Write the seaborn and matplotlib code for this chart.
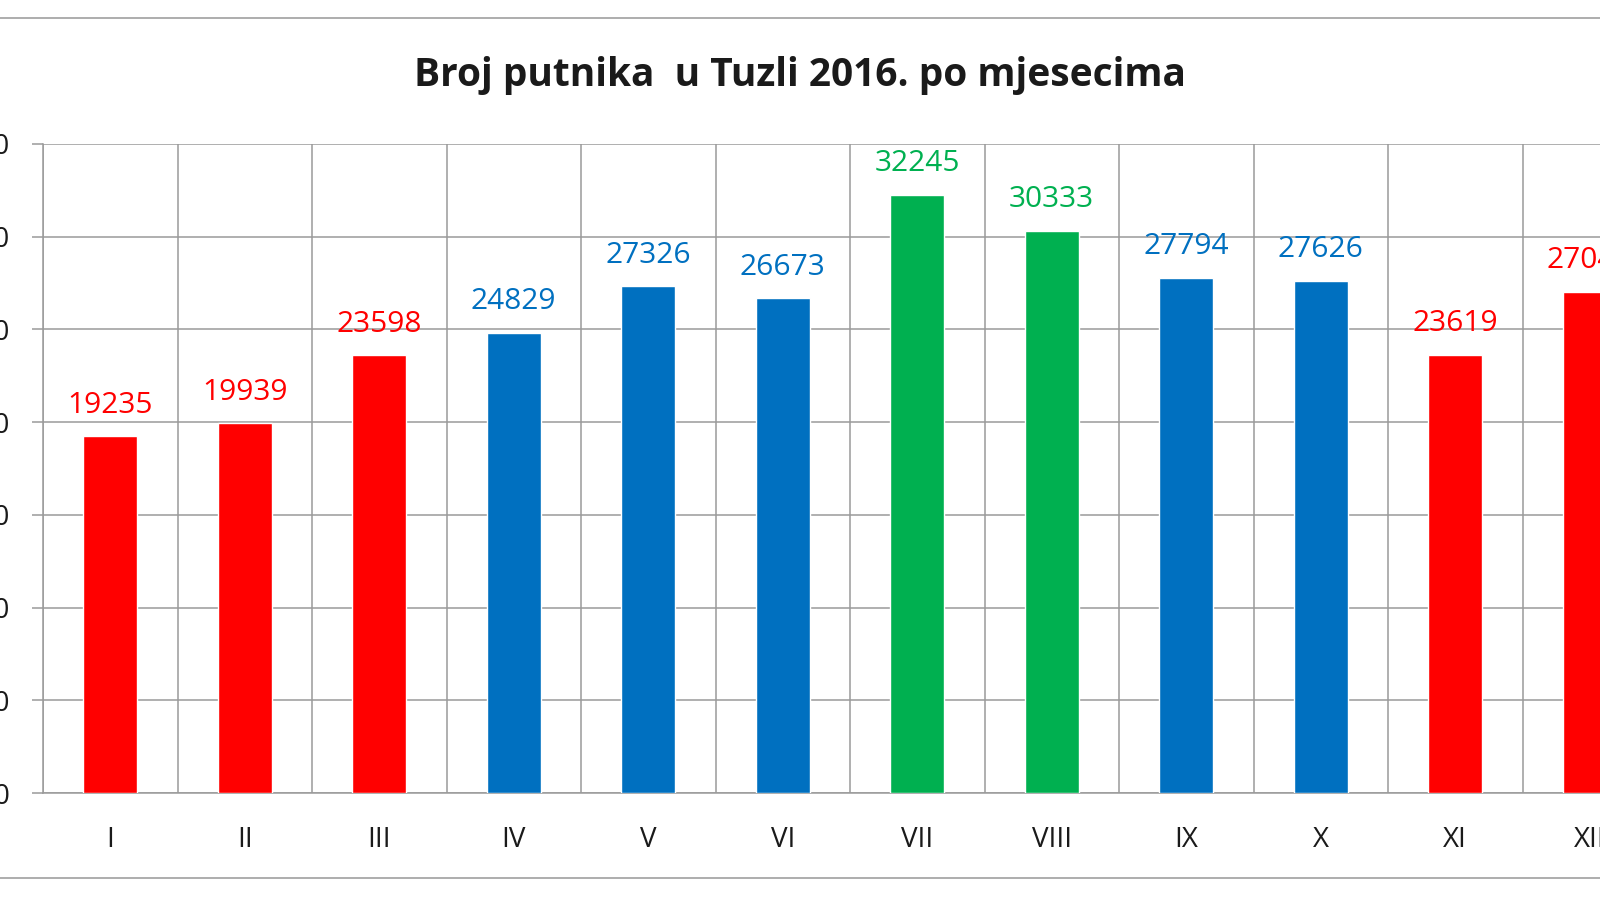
import matplotlib.pyplot as plt
import numpy as np
import seaborn as sns
from matplotlib.lines import Line2D


TITLE = "Broj putnika  u Tuzli 2016. po mjesecima"
MONTHS = ["I", "II", "III", "IV", "V", "VI", "VII", "VIII", "IX", "X", "XI", "XII"]
PASSENGERS = [19235, 19939, 23598, 24829, 27326, 26673, 32245, 30333, 27794, 27626, 23619, 27040]
SEASON = ["low", "low", "low", "mid", "mid", "mid", "high", "high", "mid", "mid", "low", "low"]
Y_TICKS = [0, 5000, 10000, 15000, 20000, 25000, 30000, 35000]

SEASON_COLORS = {"low": "#FF0000", "mid": "#0070C0", "high": "#00B050"}
GRID_COLOR = "#9a9a9a"
FONT = ["Open Sans", "DejaVu Sans"]


def main():
    sns.set_theme(style="white")
    plt.rcParams["font.family"] = FONT

    fig = plt.figure(figsize=(16, 9), dpi=100)
    # plot area runs past the right edge, like the cropped original
    ax = fig.add_axes([43 / 1600, 1 - 793 / 900, 1614 / 1600, 649 / 900])

    bar_colors = [SEASON_COLORS[s] for s in SEASON]
    palette = dict(zip(MONTHS, bar_colors))
    sns.barplot(
        x=MONTHS,
        y=PASSENGERS,
        hue=MONTHS,
        palette=palette,
        legend=False,
        width=0.4,
        saturation=1,
        ax=ax,
        zorder=3,
    )

    for i, (value, color) in enumerate(zip(PASSENGERS, bar_colors)):
        ax.annotate(
            f"{value}",
            (i, value),
            xytext=(0, 17),
            textcoords="offset points",
            ha="center",
            va="baseline",
            color=color,
            fontsize=21.5,
            annotation_clip=False,
        )

    ax.set_xlim(-0.5, len(MONTHS) - 0.5)
    ax.set_ylim(Y_TICKS[0], Y_TICKS[-1])
    ax.set_yticks(Y_TICKS)
    ax.set_yticklabels([str(t) for t in Y_TICKS])
    ax.set_xticks(np.arange(-0.5, len(MONTHS), 1), minor=True)

    ax.grid(axis="y", which="major", color=GRID_COLOR, linewidth=1.1, zorder=0)
    ax.grid(axis="x", which="minor", color=GRID_COLOR, linewidth=1.1, zorder=0)
    ax.set_axisbelow(True)

    ax.tick_params(axis="x", which="major", length=0, pad=24, labelsize=20, labelcolor="#1a1a1a")
    ax.tick_params(axis="x", which="minor", length=8.5, width=1.1, color=GRID_COLOR, direction="out")
    ax.tick_params(axis="y", which="major", length=8, width=1.1, color=GRID_COLOR,
                   direction="out", pad=16, labelsize=20, labelcolor="#1a1a1a", left=True)

    for side in ("top", "right"):
        ax.spines[side].set_visible(False)
    for side in ("left", "bottom"):
        ax.spines[side].set_color(GRID_COLOR)
        ax.spines[side].set_linewidth(1.1)

    ax.set_xlabel("")
    ax.set_ylabel("")

    fig.text(0.5, 1 - 86 / 900, TITLE, ha="center", va="baseline",
             fontsize=28, fontweight="bold", color="#1a1a1a")

    # chart frame lines at top and bottom
    for y_px in (18, 878):
        fig.add_artist(Line2D([0, 1], [1 - y_px / 900] * 2, transform=fig.transFigure,
                              color="#a0a0a0", linewidth=1.2))

    fig.savefig("out.png", dpi=100)
    plt.close(fig)


if __name__ == "__main__":
    main()
